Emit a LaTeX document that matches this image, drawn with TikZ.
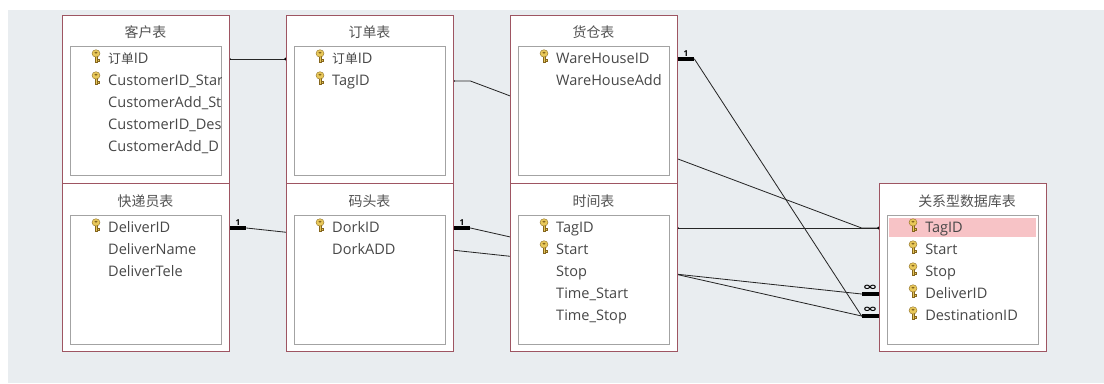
\documentclass[tikz,border=0pt]{standalone}
\usepackage{fontspec}
\setmainfont{Open Sans}
\newfontfamily\cjk[Scale=0.88]{Noto Sans CJK SC}
\newfontfamily\symf{DejaVu Sans}
\usetikzlibrary{calc,backgrounds}
\definecolor{bgray}{HTML}{E9EDF0}
\definecolor{tred}{HTML}{9E5562}
\definecolor{igray}{HTML}{A3A3A3}
\definecolor{rtext}{HTML}{474747}
\definecolor{hpink}{HTML}{F7C3C6}
\definecolor{kgold}{HTML}{E8C85A}
\definecolor{kbrown}{HTML}{85661E}
\tikzset{
  tbl/.style={draw=tred,fill=white,line width=0.7pt,minimum width=5.01cm,minimum height=5.04cm,inner sep=0pt},
  ibox/.style={draw=igray,fill=white,line width=0.6pt,minimum width=4.53cm,minimum height=3.87cm,inner sep=0pt},
  ttl/.style={font=\cjk\fontsize{13.5}{16}\selectfont,text=black!68,inner sep=0pt},
  fld/.style={anchor=west,font=\fontsize{12.4}{15}\selectfont,text=rtext,inner sep=0pt,text height=0.95em,text depth=0.25em},
  rel/.style={draw=black!85,line width=0.7pt},
  thk/.style={draw=black,line width=2.6pt},
  card/.style={font=\fontsize{7}{8}\selectfont\bfseries,inner sep=1pt},
  many/.style={font=\symf\fontsize{9}{9}\selectfont\bfseries,inner sep=0pt,xscale=1.7,yshift=1.5pt},
  jdot/.style={circle,fill=black,inner sep=0pt,minimum size=0.09cm},
  keyicon/.pic={
    \filldraw[fill=kgold,draw=kbrown,line width=0.3pt] (-1.3,0) rectangle (1.3,6.5);
    \filldraw[fill=kgold,draw=kbrown,line width=0.3pt] (1.3,3.3) rectangle (3.2,5);
    \filldraw[fill=kgold,draw=kbrown,line width=0.3pt] (0,-2.6) ellipse (4 and 3.7);
    \fill[kbrown] (0,-3.3) ellipse (1.6 and 1);
  },
}
\begin{document}
\begin{tikzpicture}[x=0.03cm,y=-0.03cm]
  \useasboundingbox (0,0) rectangle (1104,383);
  % 客户表
  \node[tbl] (kh) at (145.5,99) {};
  \node[ttl] (khT) at (145.5,32) {客户表};
  \node[ibox] (khB) at (145.5,110.5) {};
  \begin{scope}
    \clip (khB.south west) rectangle (khB.north east);
    \foreach \fname/\haskey [count=\i] in {{{\cjk 订单}ID}/1,CustomerID\_Star/1,CustomerAdd\_St/0,CustomerID\_Des/0,CustomerAdd\_D/0} {
      \node[fld] (kh\i) at (108,37+22*\i) {\fname};
      \ifnum\haskey=1 \pic at ($(kh\i.west)+(-12,-3)$) {keyicon};\fi
    }
  \end{scope}
  % 订单表
  \node[tbl] (dd) at (369.5,99) {};
  \node[ttl] (ddT) at (369.5,32) {订单表};
  \node[ibox] (ddB) at (369.5,110.5) {};
  \foreach \fname/\haskey [count=\i] in {{{\cjk 订单}ID}/1,TagID/1} {
    \node[fld] (dd\i) at (332,37+22*\i) {\fname};
    \ifnum\haskey=1 \pic at ($(dd\i.west)+(-12,-3)$) {keyicon};\fi
  }
  % 货仓表
  \node[tbl] (hc) at (593.5,99) {};
  \node[ttl] (hcT) at (593.5,32) {货仓表};
  \node[ibox] (hcB) at (593.5,110.5) {};
  \foreach \fname/\haskey [count=\i] in {WareHouseID/1,WareHouseAdd/0} {
    \node[fld] (hc\i) at (556,37+22*\i) {\fname};
    \ifnum\haskey=1 \pic at ($(hc\i.west)+(-12,-3)$) {keyicon};\fi
  }
  % 快递员表
  \node[tbl] (kd) at (145.5,267.5) {};
  \node[ttl] (kdT) at (145.5,201) {快递员表};
  \node[ibox] (kdB) at (145.5,279.5) {};
  \foreach \fname/\haskey [count=\i] in {DeliverID/1,DeliverName/0,DeliverTele/0} {
    \node[fld] (kd\i) at (108,206+22*\i) {\fname};
    \ifnum\haskey=1 \pic at ($(kd\i.west)+(-12,-3)$) {keyicon};\fi
  }
  % 码头表
  \node[tbl] (mt) at (369.5,267.5) {};
  \node[ttl] (mtT) at (369.5,201) {码头表};
  \node[ibox] (mtB) at (369.5,279.5) {};
  \foreach \fname/\haskey [count=\i] in {DorkID/1,DorkADD/0} {
    \node[fld] (mt\i) at (332,206+22*\i) {\fname};
    \ifnum\haskey=1 \pic at ($(mt\i.west)+(-12,-3)$) {keyicon};\fi
  }
  % 时间表
  \node[tbl] (sj) at (593.5,267.5) {};
  \node[ttl] (sjT) at (593.5,201) {时间表};
  \node[ibox] (sjB) at (593.5,279.5) {};
  \foreach \fname/\haskey [count=\i] in {TagID/1,Start/1,Stop/0,Time\_Start/0,Time\_Stop/0} {
    \node[fld] (sj\i) at (556,206+22*\i) {\fname};
    \ifnum\haskey=1 \pic at ($(sj\i.west)+(-12,-3)$) {keyicon};\fi
  }
  % 关系型数据库表 (TagID row selected)
  \node[tbl] (gx) at (962.5,267.5) {};
  \node[ttl] (gxT) at (967,201) {关系型数据库表};
  \node[ibox] (gxB) at (962.5,279.5) {};
  \fill[hpink] ($(gxB.north west)+(2,3)$) rectangle ($(gxB.north east)+(-2,22)$);
  \foreach \fname/\haskey [count=\i] in {TagID/1,Start/1,Stop/1,DeliverID/1,DestinationID/1} {
    \node[fld] (gx\i) at (925,206+22*\i) {\fname};
    \ifnum\haskey=1 \pic at ($(gx\i.west)+(-12,-3)$) {keyicon};\fi
  }
  % relationships, drawn behind the tables
  \begin{scope}[on background layer]
    \fill[white] (0,0) rectangle (1104,383);
    \fill[bgray] (8,10) rectangle (1104,383);
    \draw[rel] (kh.east |- kh1) node[jdot] {} -- (dd.west |- dd1) node[jdot] {};
    \draw[rel] (dd.east |- dd2) node[jdot] {} -- ++(17,0) -- ($(gx.west |- gx1)+(-17,0)$) -- (gx.west |- gx1);
    \draw[rel] (sj.east |- sj1) node[jdot] {} -- (gx.west |- gx1) node[jdot] {};
    % one-to-many links
    \draw[rel] (hc.east |- hc1) -- ++(17,0) -- ($(gx.west |- gx5)+(-17,0)$) -- (gx.west |- gx5);
    \draw[rel] (kd.east |- kd1) -- ++(17,0) -- ($(gx.west |- gx4)+(-17,0)$) -- (gx.west |- gx4);
    \draw[rel] (mt.east |- mt1) -- ++(17,0) -- ($(gx.west |- gx5)+(-17,0)$) -- (gx.west |- gx5);
    \draw[thk] (hc.east |- hc1) -- ++(17,0) node[card,midway,above] {1};
    \draw[thk] (kd.east |- kd1) -- ++(17,0) node[card,midway,above] {1};
    \draw[thk] (mt.east |- mt1) -- ++(17,0) node[card,midway,above] {1};
    \draw[thk] (gx.west |- gx4) -- ++(-17,0) node[many,midway,above] {∞};
    \draw[thk] (gx.west |- gx5) -- ++(-17,0) node[many,midway,above] {∞};
  \end{scope}
\end{tikzpicture}
\end{document}
